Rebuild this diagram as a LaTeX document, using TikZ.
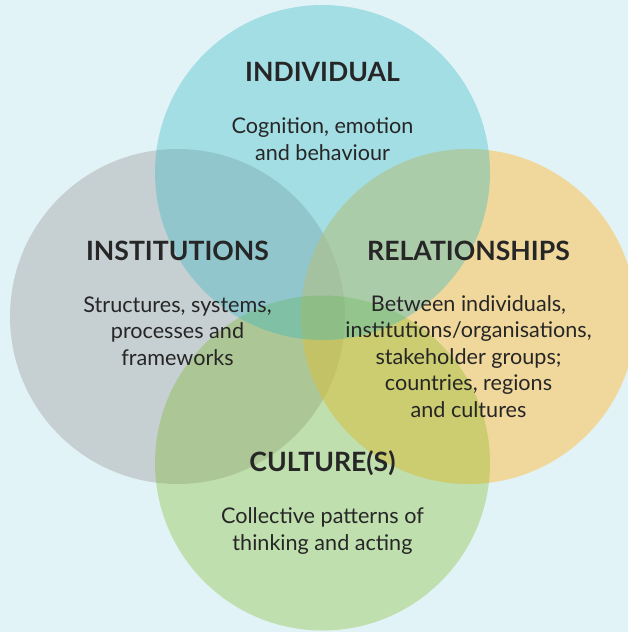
\documentclass[tikz,border=0pt]{standalone}
\usepackage{fontspec}
\setmainfont{Lato}
\definecolor{bgblue}{RGB}{225,243,246}
\definecolor{indcol}{RGB}{45,183,195}
\definecolor{instcol}{RGB}{173,173,174}
\definecolor{relcol}{RGB}{250,198,96}
\definecolor{cultcol}{RGB}{118,180,13}
\definecolor{ink}{RGB}{38,38,38}
\begin{document}
\begin{tikzpicture}[x=0.5pt,y=-0.5pt,
    ring/.style={circle,minimum size=167.5pt,inner sep=0pt},
    head/.style={anchor=base,text=ink,font=\bfseries\fontsize{13.3}{15}\selectfont},
    body/.style={anchor=base,align=center,text=ink,font=\fontsize{10.8}{13.2}\selectfont}
  ]
  \useasboundingbox (0,0) rectangle (628,632);
  \clip (0,0) rectangle (628,632);
  \fill[bgblue] (0,0) rectangle (628,632);
  % the four circles
  \node[ring,fill=instcol,fill opacity=0.5] (inst) at (177.5,316.5) {};
  \node[ring,fill=relcol,fill opacity=0.6] (rel) at (468.5,316.5) {};
  \node[ring,fill=cultcol,fill opacity=0.3] (cult) at (322.5,463) {};
  \node[ring,fill=indcol,fill opacity=0.35] (ind) at (322.5,172.5) {};
  % titles
  \node[head] (indt) at (322.5,81) {INDIVIDUAL};
  \node[head] (instt) at (177.5,260) {INSTITUTIONS};
  \node[head] (relt) at (468.5,260) {RELATIONSHIPS};
  \node[head] (cultt) at (322.5,471) {CULTURE(S)};
  % descriptions (base = last line)
  \node[body] (indd) at (322.5,160) {Cognition, emotion\\and behaviour};
  \node[body] (instd) at (177.5,365) {Structures, systems,\\processes and\\frameworks};
  \node[body] (reld) at (468.5,417) {Between individuals,\\institutions/organisations,\\stakeholder groups;\\countries, regions\\and cultures};
  \node[body] (cultd) at (322.5,550) {Collective patterns of\\thinking and acting};
\end{tikzpicture}
\end{document}
